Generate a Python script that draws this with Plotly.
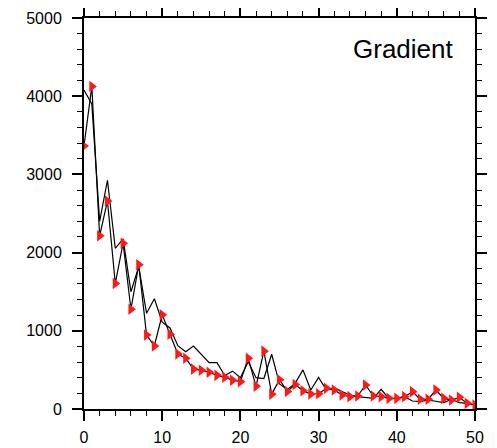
import plotly.graph_objects as go

x_vals = list(range(51))
red_series = [3363, 4125, 2215, 2660, 1605, 2120, 1275, 1845, 946, 806,
              1205, 955, 703, 650, 510, 495, 470, 430, 405, 368,
              350, 650, 290, 740, 190, 375, 225, 312, 234, 192,
              195, 265, 243, 179, 158, 166, 307, 166, 158, 136,
              136, 158, 222, 124, 124, 243, 136, 115, 149, 72, 51]
black_series = [4080, 3900, 2400, 2925, 2055, 2175, 1500, 1820, 1224, 1410,
                1110, 1036, 810, 733, 806, 705, 592, 592, 428, 484,
                400, 605, 400, 390, 700, 320, 250, 328, 500, 243,
                405, 243, 270, 222, 179, 158, 145, 136, 252, 128,
                136, 158, 102, 94, 115, 94, 81, 124, 81, 72, 51]
x_ticks = [0, 10, 20, 30, 40, 50]
y_ticks = [0, 1000, 2000, 3000, 4000, 5000]
title_text = "Gradient"

fig = go.Figure()
fig.add_trace(go.Scatter(x=x_vals, y=black_series, mode="lines",
                         line=dict(color="black", width=1.2), showlegend=False))
fig.add_trace(go.Scatter(x=x_vals, y=red_series, mode="lines+markers",
                         line=dict(color="black", width=1.2),
                         marker=dict(symbol="triangle-right", size=10, color="#ff1a1a",
                                     line=dict(width=0)),
                         showlegend=False))

axis_common = dict(showgrid=False, zeroline=False, showline=True, linecolor="black",
                   linewidth=2, ticks="outside", ticklen=10, tickwidth=1.5,
                   tickcolor="black", mirror="allticks", automargin=False,
                   tickfont=dict(family="Liberation Sans, Arial", size=16, color="black"))

fig.update_xaxes(range=[0, 50], tickvals=x_ticks, ticklabelstandoff=3,
                 minor=dict(dtick=2, ticks="outside", ticklen=5, tickwidth=1, tickcolor="black"),
                 **axis_common)
fig.update_yaxes(range=[0, 5000], tickvals=y_ticks, ticklabelstandoff=7,
                 minor=dict(dtick=200, ticks="outside", ticklen=5, tickwidth=1, tickcolor="black"),
                 **axis_common)

fig.add_annotation(text=title_text, xref="paper", yref="paper", x=0.95, y=0.92,
                   xanchor="right", yanchor="middle", showarrow=False,
                   font=dict(family="Liberation Sans, Arial", size=26, color="black"))

# page body has an 8px margin, so the figure is offset by 8px
fig.update_layout(width=489, height=440, margin=dict(l=76, r=22, t=10, b=39),
                  plot_bgcolor="white", paper_bgcolor="white")
fig.write_html("out.html")
